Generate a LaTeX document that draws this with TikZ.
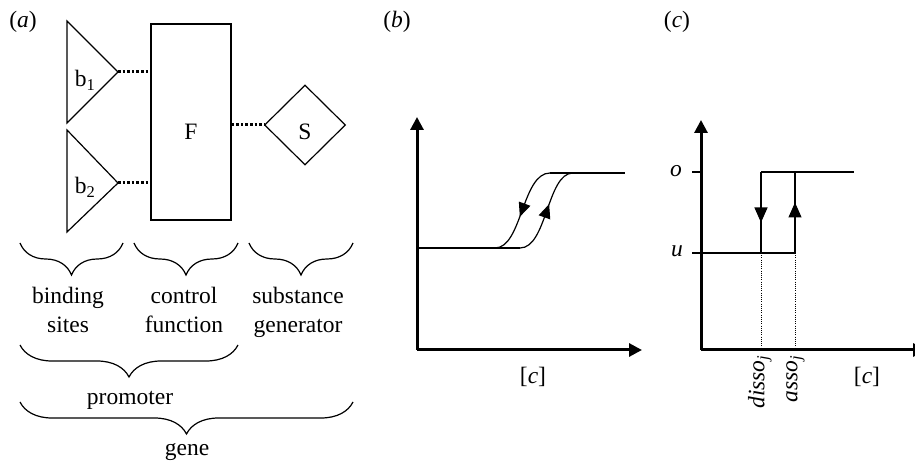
\documentclass[tikz,border=0pt]{standalone}
\usepackage{fontspec}
\setmainfont{Liberation Serif}
\usetikzlibrary{arrows.meta,positioning,shapes.geometric,decorations.pathreplacing,decorations.markings}

\begin{document}
\begin{tikzpicture}[
  x=1pt,y=1pt,
  every node/.style={font=\fontsize{23.5}{29}\selectfont, inner sep=0pt},
  ln/.style={line width=1.2pt},
  fbox/.style={draw, line width=1.2pt, minimum width=80pt, minimum height=196pt},
  gen/.style={draw, diamond, line width=1.2pt, minimum width=81pt, minimum height=80pt},
  dots/.style={line width=3pt, dash pattern=on 2.5pt off 2.1pt},
  fine/.style={line width=0.6pt, dash pattern=on 1pt off 1.2pt},
  curly/.style={decorate, decoration={brace, amplitude=32pt}, line width=1.2pt},
  axis/.style={line width=3pt, -{Triangle[length=13pt,width=13pt]}},
  midarr/.style={ln, postaction={decorate}, decoration={markings,
    mark=at position 0.5 with {\arrow[xshift=7pt]{Triangle[length=14pt,width=12pt]}}}},
  steparr/.style={ln, postaction={decorate}, decoration={markings,
    mark=at position 0.5 with {\arrow[xshift=10pt]{Triangle[length=15pt,width=13pt]}}}}
]
\useasboundingbox (0,0) rectangle (915,463);
\clip (0,0) rectangle (915,463);

% (a) gene model
\node (la) at (23,441) {(\textit{a})};
\draw[ln] (67,442) -- (118,391) coordinate (b1tip) -- (67,340) -- cycle;
\draw[ln] (67,333) -- (118,280) coordinate (b2tip) -- (67,231) -- cycle;
\node (b1) at (85,383) {b\textsubscript{1}};
\node (b2) at (85,276) {b\textsubscript{2}};
\node[fbox] (F) at (191,341) {};
\node (Flab) at ([yshift=-10pt]F.center) {F};
\node[gen] (S) at (305,338) {};
\node (Slab) at ([yshift=-7pt]S.center) {S};
\draw[dots] (b1tip) -- (F.west |- b1tip);
\draw[dots] (b2tip) -- (F.west |- b2tip);
\draw[dots] (F.east |- S.west) -- (S.west);

% braces
\draw[curly] (123,220) -- (20,220);
\draw[curly] (238,220) -- (134,220);
\draw[curly] (353,220) -- (249,220);
\draw[curly] (238,118) -- (20,118);
\draw[curly] (353,61) -- (20,61);
\node[align=center, anchor=north] (sites) at (68,176) {binding\\sites};
\node[align=center, anchor=north] (ctrl) at (184,176) {control\\function};
\node[align=center, anchor=north] (subst) at (298,176) {substance\\generator};
\node[anchor=base] (prom) at (130,59) {promoter};
\node[anchor=base] (gene) at (187,8) {gene};

% (b) sigmoid hysteresis
\node (lb) at (397,441) {(\textit{b})};
\coordinate (O1) at (417,113);
\draw[axis] (O1) -- (417,346);
\draw[axis] (O1) -- (642,113);
\draw[ln] (O1 |- 0,215) -- (520,215);
\draw[ln] (465,215) -- (495,215);
\draw[midarr] (550,290) .. controls (522,290) and (522,215) .. (495,215);
\draw[midarr] (520,215) .. controls (547,215) and (547,290) .. (573,290);
\draw[ln] (550,290) -- (625,290);
\node (cb) at (533,86) {[\textit{c}]};

% (c) step hysteresis
\node (lc) at (677,441) {(\textit{c})};
\coordinate (O2) at (701,113);
\draw[axis] (O2) -- (701,343);
\draw[axis] (O2) -- (926,113);
\node (o) at (676,292) {\textit{o}};
\node (u) at (677,212) {\textit{u}};
\draw[ln] (692,291) -- (701,291);
\draw[ln] (692,210) -- (795,210);
\draw[ln] (761,291) -- (854,291);
\draw[steparr] (761,291) -- (761,210);
\draw[steparr] (795,210) -- (795,291);
\draw[fine] (761,210) -- (761,113);
\draw[fine] (795,210) -- (795,113);
\node[rotate=90, anchor=mid east] (disso) at (762,108) {\textit{disso}\textsubscript{\textit{j}}};
\node[rotate=90, anchor=mid east] (asso) at (795,108) {\textit{asso}\textsubscript{\textit{j}}};
\node (cc) at (867,86) {[\textit{c}]};
\end{tikzpicture}
\end{document}
